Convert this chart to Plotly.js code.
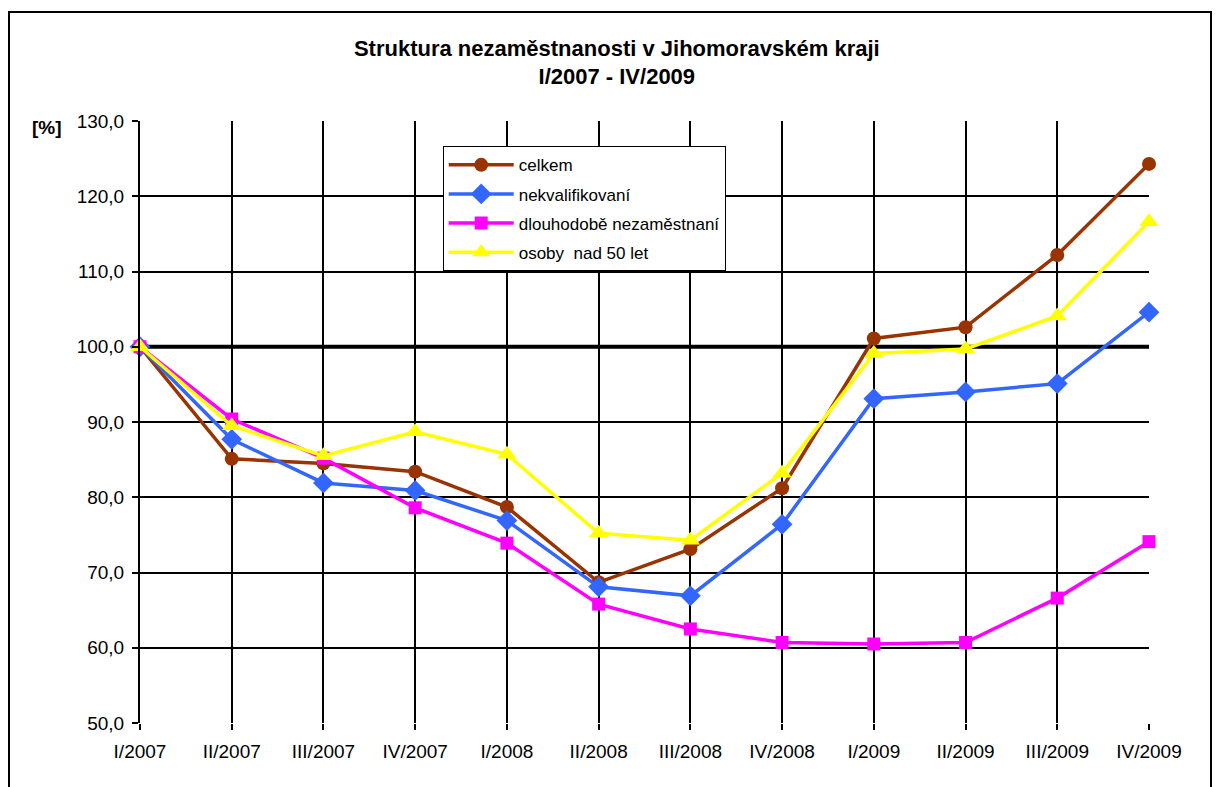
<!DOCTYPE html>
<html>
<head>
<meta charset="utf-8">
<script src="https://cdn.plot.ly/plotly-3.0.1.min.js"></script>
<style>
  body { margin: 0; background: #fff; }
  #chart { position: absolute; left: 0; top: 0; width: 1219px; height: 787px; }
  #frame { position: absolute; left: 8px; top: 11px; width: 1200px; height: 800px;
           border: 2px solid #000; pointer-events: none; }
</style>
</head>
<body>
<div id="chart"></div>
<div id="frame"></div>
<script>
const quarters = ['I/2007', 'II/2007', 'III/2007', 'IV/2007', 'I/2008', 'II/2008',
                  'III/2008', 'IV/2008', 'I/2009', 'II/2009', 'III/2009', 'IV/2009'];
const celkem = [100, 85.1, 84.5, 83.4, 78.7, 68.7, 73.1, 81.2, 101.1, 102.6, 112.2, 124.3];
const nekvalifikovani = [100, 87.7, 81.9, 80.9, 76.9, 68.1, 66.9, 76.4, 93.1, 94.0, 95.1, 104.6];
const dlouhodobe = [100, 90.4, 85.2, 78.6, 73.9, 65.8, 62.5, 60.7, 60.5, 60.7, 66.6, 74.1];
const nad50 = [100, 89.5, 85.5, 88.7, 85.7, 75.2, 74.3, 83.2, 99.1, 99.7, 104.1, 116.6];

const font = 'Arial, "Liberation Sans", sans-serif';

function series(name, y, color, symbol, size) {
    return {
        x: quarters,
        y: y,
        name: name,
        legendgroup: name,
        type: 'scatter',
        mode: 'lines+markers',
        line: {color: color, width: 3.5},
        marker: {color: color, symbol: symbol, size: size},
        cliponaxis: false
    };
}

const traces = [
    series('celkem', celkem, '#993300', 'circle', 14),
    series('nekvalifikovaní', nekvalifikovani, '#3366FF', 'diamond', 16),
    series('dlouhodobě nezaměstnaní', dlouhodobe, '#FF00FF', 'square', 13),
    series('osoby  nad 50 let', nad50, '#FFFF00', 'triangle-up', 17)
];

const layout = {
    width: 1219,
    height: 787,
    margin: {l: 140, r: 70, t: 121, b: 64},
    paper_bgcolor: '#fff',
    plot_bgcolor: '#fff',
    font: {family: font, size: 19, color: '#000'},
    separators: ', ',
    showlegend: true,
    title: {
        text: 'Struktura nezaměstnanosti v Jihomoravském kraji<br>I/2007 - IV/2009',
        font: {family: font, size: 22, color: '#000', weight: 'bold'},
        xref: 'container', x: 0.506, xanchor: 'center',
        yref: 'container', y: 0.929, yanchor: 'middle'
    },
    xaxis: {
        type: 'category',
        range: [0, quarters.length - 1],
        showgrid: true,
        gridcolor: '#000',
        gridwidth: 2,
        showline: false,
        ticks: 'outside',
        ticklen: 6,
        tickwidth: 2,
        tickcolor: '#000',
        ticklabelstandoff: 5,
        tickfont: {family: font, size: 19},
        zeroline: false,
        fixedrange: true
    },
    yaxis: {
        range: [50, 130],
        dtick: 10,
        tickformat: '.1f',
        showgrid: true,
        gridcolor: '#000',
        gridwidth: 2,
        showline: true,
        linecolor: '#000',
        linewidth: 2,
        ticks: 'outside',
        ticklen: 6,
        tickwidth: 2,
        tickcolor: '#000',
        ticklabelstandoff: 4,
        tickfont: {family: font, size: 19},
        zeroline: false,
        fixedrange: true
    },
    legend: {
        x: 0.30, xanchor: 'left',
        y: 0.958, yanchor: 'top',
        bgcolor: '#fff',
        bordercolor: '#000',
        borderwidth: 1,
        font: {family: font, size: 17},
        tracegroupgap: 4,
        itemwidth: 65
    },
    shapes: [{
        type: 'line', xref: 'paper', x0: 0, x1: 1,
        yref: 'y', y0: 100, y1: 100,
        line: {color: '#000', width: 4},
        layer: 'below'
    }],
    annotations: [{
        text: '[%]', xref: 'paper', yref: 'paper',
        x: -0.075, y: 1, xanchor: 'right', yanchor: 'middle',
        yshift: -6,
        showarrow: false,
        font: {family: font, size: 19, weight: 'bold'}
    }]
};

Plotly.newPlot('chart', traces, layout, {displayModeBar: false, staticPlot: true});
</script>
</body>
</html>
